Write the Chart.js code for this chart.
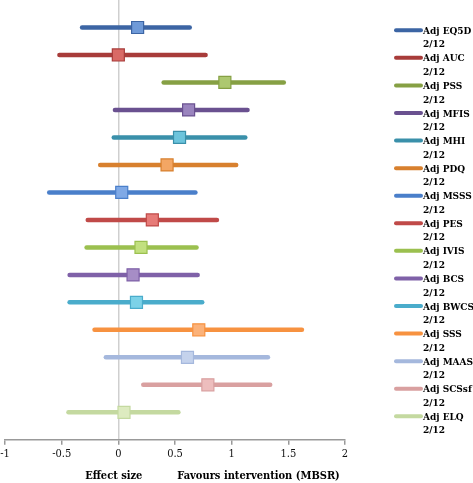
<!DOCTYPE html>
<html>
<head>
<meta charset="utf-8">
<script src="https://cdn.jsdelivr.net/npm/chart.js@4"></script>
<style>
html,body{margin:0;padding:0;background:#fff;}
#wrap{position:relative;width:473px;height:483px;}
</style>
</head>
<body>
<div id="wrap"><canvas id="canvas" width="473" height="483"></canvas></div>
<script>
// outcome measures, top to bottom
const measures=["Adj EQ5D","Adj AUC","Adj PSS","Adj MFIS","Adj MHI","Adj PDQ","Adj MSSS","Adj PES","Adj IVIS","Adj BCS","Adj BWCS","Adj SSS","Adj MAAS","Adj SCSsf","Adj ELQ"];
const timepoint="2/12";
const effect=[0.17,0.00,0.94,0.62,0.54,0.43,0.03,0.30,0.20,0.13,0.16,0.71,0.61,0.79,0.05];
const lower=[-0.32,-0.52,0.40,-0.03,-0.04,-0.16,-0.61,-0.27,-0.28,-0.43,-0.43,-0.21,-0.11,0.22,-0.44];
const upper=[0.63,0.77,1.46,1.14,1.12,1.04,0.68,0.87,0.69,0.70,0.74,1.62,1.32,1.34,0.53];
const lineColors=["#3C65A4","#A83C3A","#86A044","#6A5190","#3A90AA","#D8802E","#4A7FCA","#C04A48","#9BC04F","#7F61A8","#4AACCB","#F79240","#A5B8DD","#D9A0A0","#C4D9A0"];
const fillColors=["#6F9AD8","#D96A66","#ADC870","#9A84BE","#6CC4DC","#F3A664","#7FA9E6","#E77B78","#C2E07F","#A68DC6","#7CD2E8","#FBB27A","#C4D2EC","#EDBDBD","#DDEBC0"];

const serif="'DejaVu Serif Condensed', 'Liberation Serif', serif";
const datasets=[];
measures.forEach((m,i)=>{
    datasets.push({
        type:"line",
        label:m,
        data:[{x:lower[i],y:i+1},{x:upper[i],y:i+1}],
        borderColor:lineColors[i],
        borderWidth:4.5,
        borderCapStyle:"round",
        pointRadius:0,
        order:2
    });
});
measures.forEach((m,i)=>{
    datasets.push({
        type:"scatter",
        label:m+" point",
        data:[{x:effect[i],y:i+1}],
        pointStyle:"rect",
        pointRadius:8.5,
        backgroundColor:fillColors[i],
        borderColor:lineColors[i],
        borderWidth:1.2,
        order:1
    });
});

// draws the two-line legend and the two axis captions
const extras={
    id:"extras",
    afterDraw(chart){
        const c=chart.ctx;
        const xs=chart.scales.x;
        c.save();
        measures.forEach((m,i)=>{
            const y=30.3+i*27.57;
            c.strokeStyle=lineColors[i];
            c.lineWidth=4;
            c.lineCap="round";
            c.beginPath();
            c.moveTo(396,y);
            c.lineTo(421,y);
            c.stroke();
            c.fillStyle="#000";
            c.font="bold 10px "+serif;
            c.textBaseline="middle";
            c.textAlign="left";
            c.fillText(m,423,y+1);
            c.fillText(timepoint,423,y+14.5);
        });
        c.font="bold 11px "+serif;
        c.textBaseline="middle";
        c.textAlign="center";
        c.fillStyle="#000";
        c.fillText("Effect size",xs.getPixelForValue(-0.04),476);
        c.textAlign="left";
        c.fillText("Favours intervention (MBSR)",xs.getPixelForValue(0.52),476);
        c.restore();
    }
};

new Chart(document.getElementById("canvas"),{
    type:"scatter",
    data:{datasets:datasets},
    options:{
        responsive:false,
        animation:false,
        layout:{autoPadding:false,padding:{left:0,right:128,top:0,bottom:19}},
        plugins:{legend:{display:false},tooltip:{enabled:false}},
        scales:{
            x:{
                type:"linear",
                min:-1,
                max:2,
                afterFit:s=>{s.paddingLeft=5;},
                ticks:{stepSize:0.5,color:"#111",font:{family:serif,size:11},padding:3,callback:v=>String(v)},
                grid:{
                    color:ctx=>ctx.tick&&ctx.tick.value===0?"#cfcfcf":"rgba(0,0,0,0)",
                    lineWidth:1.5,
                    tickColor:"#999",
                    tickLength:5
                },
                border:{display:true,color:"#999",width:1.5}
            },
            y:{
                type:"linear",
                min:0,
                max:16,
                reverse:true,
                display:false
            }
        }
    },
    plugins:[extras]
});
</script>
</body>
</html>
